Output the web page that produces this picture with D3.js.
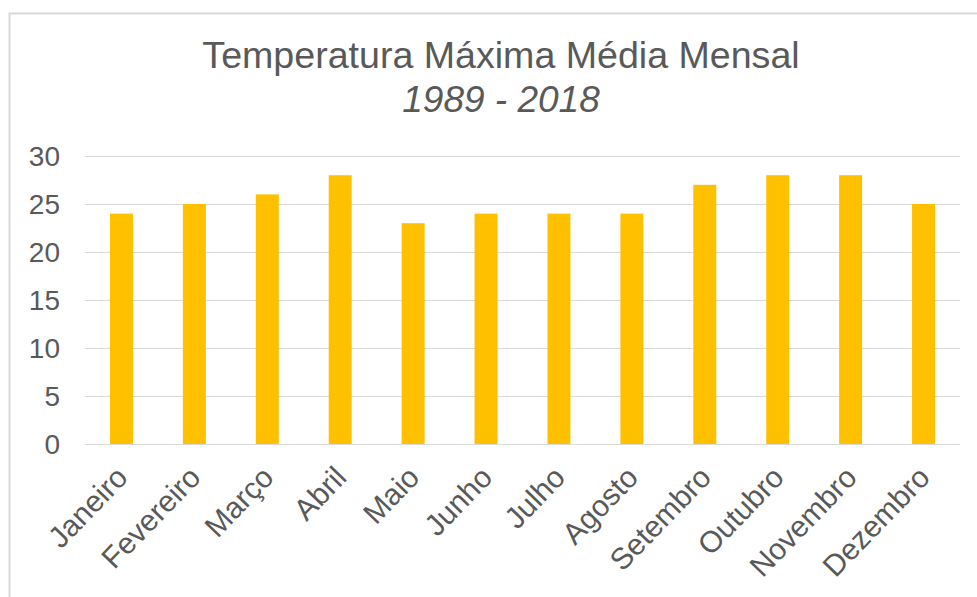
<!DOCTYPE html>
<html>
<head>
    <meta charset="utf-8">
    <title>Temperatura Máxima Média Mensal</title>
    <script src="https://d3js.org/d3.v7.min.js"></script>
    <style>
        body { margin: 0; background: #fff; }
        .tick-label, .month-label, .title {
            font-family: "Liberation Sans", Arial, sans-serif;
            fill: #595959;
        }
    </style>
</head>
<body>
    <div id="chart"></div>
    <script>
        const months = ["Janeiro", "Fevereiro", "Março", "Abril", "Maio", "Junho",
                        "Julho", "Agosto", "Setembro", "Outubro", "Novembro", "Dezembro"];
        const tempMax = [24, 25, 26, 28, 23, 24, 24, 24, 27, 28, 28, 25];
        const yTicks = [0, 5, 10, 15, 20, 25, 30];

        const width = 977;
        const height = 597;
        const margin = {left: 85, right: 17, top: 156, bottom: 153};

        const svg = d3.select("#chart")
            .append("svg")
            .attr("width", width)
            .attr("height", height);

        // chart frame, cut by the window on right and bottom
        svg.append("rect")
            .attr("x", 9.5)
            .attr("y", 13.5)
            .attr("width", 1000)
            .attr("height", 700)
            .attr("fill", "none")
            .attr("stroke", "#d9d9d9")
            .attr("stroke-width", 2);

        const x = d3.scaleBand()
            .domain(months)
            .range([margin.left, width - margin.right])
            .paddingInner(0.685)
            .paddingOuter(0.3425);

        const y = d3.scaleLinear()
            .domain([0, 30])
            .range([height - margin.bottom, margin.top]);

        // grid lines
        svg.append("g")
            .selectAll("line")
            .data(yTicks)
            .enter()
            .append("line")
            .attr("x1", margin.left)
            .attr("x2", width - margin.right)
            .attr("y1", d => Math.round(y(d)) + 0.5)
            .attr("y2", d => Math.round(y(d)) + 0.5)
            .attr("stroke", "#d9d9d9")
            .attr("stroke-width", 1.2);

        // y labels
        svg.append("g")
            .selectAll("text")
            .data(yTicks)
            .enter()
            .append("text")
            .attr("class", "tick-label")
            .attr("x", 60)
            .attr("y", d => y(d))
            .attr("dy", "0.36em")
            .attr("text-anchor", "end")
            .style("font-size", "28px")
            .text(d => d);

        // bars
        svg.append("g")
            .selectAll("rect")
            .data(tempMax)
            .enter()
            .append("rect")
            .attr("x", (d, i) => x(months[i]))
            .attr("y", d => y(d))
            .attr("width", x.bandwidth())
            .attr("height", d => y(0) - y(d))
            .attr("fill", "#FFC000");

        // month labels, rotated
        svg.append("g")
            .selectAll("text")
            .data(months)
            .enter()
            .append("text")
            .attr("class", "month-label")
            .attr("text-anchor", "end")
            .style("font-size", "30px")
            .attr("transform", d => {
                const cx = x(d) + x.bandwidth() / 2 + 8;
                return "translate(" + cx + "," + (y(0) + 35) + ") rotate(-46)";
            })
            .text(d => d);

        // title
        svg.append("text")
            .attr("class", "title")
            .attr("x", 501)
            .attr("y", 68)
            .attr("text-anchor", "middle")
            .style("font-size", "37.6px")
            .text("Temperatura Máxima Média Mensal");

        svg.append("text")
            .attr("class", "title")
            .attr("x", 501)
            .attr("y", 112)
            .attr("text-anchor", "middle")
            .style("font-size", "37px")
            .style("font-style", "italic")
            .text("1989 - 2018");
    </script>
</body>
</html>
